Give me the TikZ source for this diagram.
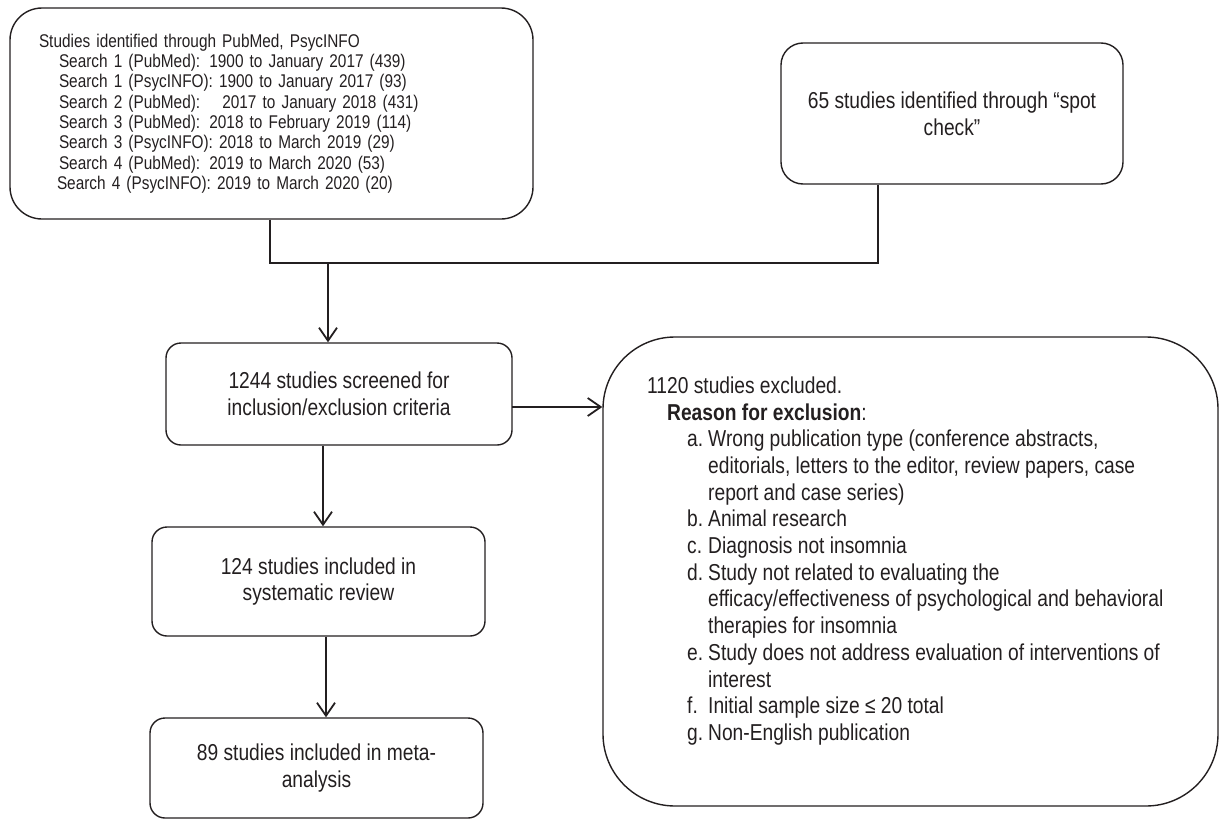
\documentclass[tikz,border=0pt]{standalone}
\usepackage{fontspec}
\setmainfont{Liberation Sans}[FakeStretch=0.835]
\usetikzlibrary{arrows.meta}
\definecolor{ink}{HTML}{231F20}
\tikzset{
  box/.style={draw=ink, line width=1.4pt, rounded corners=15pt, align=center, inner sep=0pt, text=ink},
  maintxt/.style={font=\fontsize{23}{26.7}\selectfont},
  smalltxt/.style={font=\fontsize{18.4}{20.3}\selectfont},
  conn/.style={draw=ink, line width=1.8pt},
  arr/.style={conn, -{Straight Barb[length=13pt,width=18pt]}},
}
\begin{document}
\begin{tikzpicture}[x=1pt,y=-1pt]
\useasboundingbox (0,0) rectangle (1219,819);

% top-left search box
\node[box, smalltxt, rounded corners=32pt, align=left, text width=465pt, inner xsep=29pt,
      minimum width=523pt, minimum height=211pt] (search) at (271.5,113.5) {%
Studies identified through PubMed, PsycINFO\\
\hspace*{20pt}Search 1 (PubMed): 1900 to January 2017 (439)\\
\hspace*{20pt}Search 1 (PsycINFO): 1900 to January 2017 (93)\\
\hspace*{20pt}Search 2 (PubMed):\hspace*{16pt} 2017 to January 2018 (431)\\
\hspace*{20pt}Search 3 (PubMed): 2018 to February 2019 (114)\\
\hspace*{20pt}Search 3 (PsycINFO): 2018 to March 2019 (29)\\
\hspace*{20pt}Search 4 (PubMed): 2019 to March 2020 (53)\\
\hspace*{18pt}Search 4 (PsycINFO): 2019 to March 2020 (20)};

% spot check box
\node[box, maintxt, rounded corners=22pt, minimum width=342pt, minimum height=141pt] (spot) at (952,113.5)
  {65 studies identified through “spot\\check”};

% screening box
\node[box, maintxt, minimum width=346pt, minimum height=102pt] (screen) at (339,394)
  {1244 studies screened for\\inclusion/exclusion criteria};

% systematic review box
\node[box, maintxt, minimum width=333pt, minimum height=109pt] (sys) at (318.5,581.5)
  {124 studies included in\\systematic review};

% meta-analysis box
\node[box, maintxt, minimum width=333pt, minimum height=100pt] (meta) at (316.5,768)
  {89 studies included in meta-\\analysis};

% exclusion box
\node[box, rounded corners=72pt, minimum width=615pt, minimum height=469pt] (exc) at (910.5,571.5) {};
\node[maintxt, anchor=north west, align=left, inner sep=0pt, text=ink] (exctxt) at (647,376.5) {%
1120 studies excluded.\\
\hspace*{20pt}\textbf{Reason for exclusion}:\\
\hspace*{40pt}\makebox[21pt][l]{a.}Wrong publication type (conference abstracts,\\
\hspace*{61pt}editorials, letters to the editor, review papers, case\\
\hspace*{61pt}report and case series)\\
\hspace*{40pt}\makebox[21pt][l]{b.}Animal research\\
\hspace*{40pt}\makebox[21pt][l]{c.}Diagnosis not insomnia\\
\hspace*{40pt}\makebox[21pt][l]{d.}Study not related to evaluating the\\
\hspace*{61pt}efficacy/effectiveness of psychological and behavioral\\
\hspace*{61pt}therapies for insomnia\\
\hspace*{40pt}\makebox[21pt][l]{e.}Study does not address evaluation of interventions of\\
\hspace*{61pt}interest\\
\hspace*{40pt}\makebox[21pt][l]{f.}Initial sample size ≤ 20 total\\
\hspace*{40pt}\makebox[21pt][l]{g.}Non-English publication};

% joining connector
\coordinate (jl) at (270,263);
\coordinate (jr) at (878,263);
\coordinate (jd) at (328,263);
\draw[conn] (jl |- search.south) -- (jl);
\draw[conn] (jr |- spot.south) -- (jr);
\draw[conn, line width=2.6pt] ([xshift=-1pt]jl) -- ([xshift=1pt]jr);
\draw[arr] (jd) -- (jd |- screen.north);

% screening -> exclusion
\coordinate (ex) at (512,407);
\draw[arr] (ex) -- (ex -| exc.west);

% vertical flow
\draw[arr] ([xshift=-16pt]screen.south) -- ([xshift=-16pt]screen.south |- sys.north);
\draw[arr] ([xshift=7.5pt]sys.south) -- ([xshift=7.5pt]sys.south |- meta.north);
\end{tikzpicture}
\end{document}
